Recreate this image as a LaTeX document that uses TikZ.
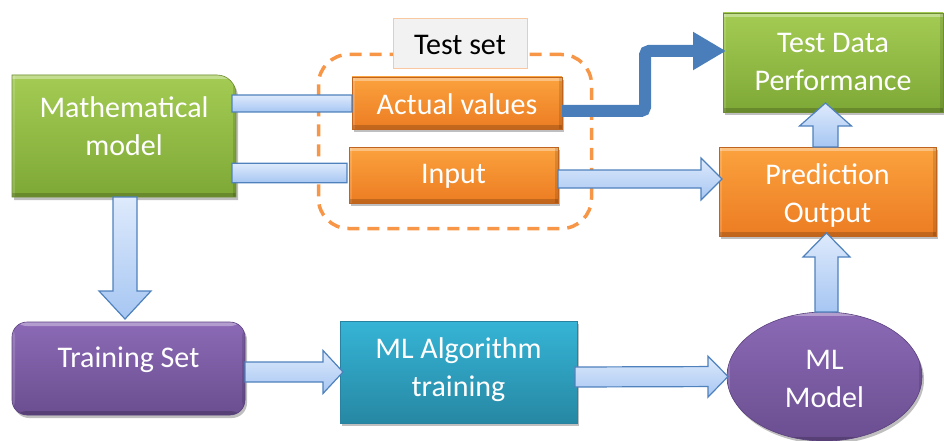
\documentclass[tikz,border=0pt]{standalone}
\usepackage{fontspec}
\setmainfont{Carlito}
\usetikzlibrary{calc,arrows.meta,shadows,shapes.geometric}

\definecolor{greenT}{RGB}{164,204,84}
\definecolor{greenB}{RGB}{126,168,54}
\definecolor{greenE}{RGB}{110,140,50}
\definecolor{orangeT}{RGB}{251,162,62}
\definecolor{orangeB}{RGB}{236,124,34}
\definecolor{orangeE}{RGB}{190,100,30}
\definecolor{purpleT}{RGB}{140,106,182}
\definecolor{purpleB}{RGB}{106,78,144}
\definecolor{purpleE}{RGB}{90,65,125}
\definecolor{tealT}{RGB}{54,180,214}
\definecolor{tealB}{RGB}{38,136,163}
\definecolor{tealE}{RGB}{40,130,160}
\definecolor{arrowT}{RGB}{222,234,252}
\definecolor{arrowB}{RGB}{166,198,242}
\definecolor{arrowE}{RGB}{79,129,189}
\definecolor{lineBlue}{RGB}{74,126,187}
\definecolor{frameOrange}{RGB}{247,150,70}
\definecolor{labelF}{RGB}{242,242,242}
\definecolor{labelE}{RGB}{250,200,160}

\tikzset{
  x=1pt, y=-1pt,
  base/.style={inner sep=0pt, outer sep=0pt},
  softshadow/.style={drop shadow={shadow xshift=2pt, shadow yshift=-3pt, opacity=0.25, fill=black}},
  bevel/.style={path picture={
      \fill[white, opacity=0.35] (path picture bounding box.north west)
        rectangle ([yshift=-4pt]path picture bounding box.north east);
      \fill[white, opacity=0.15] (path picture bounding box.north west)
        rectangle ([xshift=3pt]path picture bounding box.south west);
      \fill[black, opacity=0.12] ([xshift=-3pt]path picture bounding box.north east)
        rectangle (path picture bounding box.south east);
      \fill[black, opacity=0.18] ([yshift=4pt]path picture bounding box.south west)
        rectangle (path picture bounding box.south east);
    }},
  greenbox/.style={top color=greenT, bottom color=greenB, draw=greenE, line width=0.6pt, softshadow, bevel},
  orangebox/.style={base, top color=orangeT, bottom color=orangeB, draw=orangeE, line width=0.6pt, softshadow, bevel},
  purplebox/.style={base, top color=purpleT, bottom color=purpleB, draw=purpleE, line width=0.6pt, softshadow, bevel},
  tealbox/.style={base, top color=tealT, bottom color=tealB, draw=tealE, line width=0.6pt, softshadow},
  lbl/.style={base, text=white, align=center, font=\fontsize{30}{38}\selectfont},
  barrow/.style={top color=arrowT, bottom color=arrowB, draw=arrowE, line width=1.2pt, line join=miter},
  darkline/.style={draw=lineBlue, line width=12pt, rounded corners=4pt,
    -{Triangle[width=36pt,length=33pt]}},
}

% block arrow: from, to, shaft half width, head half width, head length
\newcommand\blockarrow[5]{%
  \path[barrow] let \p1=(#1), \p2=(#2),
      \n1={atan2(\y2-\y1,\x2-\x1)}, \n2={veclen(\x2-\x1,\y2-\y1)-#5}
    in ($(\p1)+(\n1+90:#3)$)
    -- ($(\p1)+(\n1:{(\n2)*1pt})+(\n1+90:#3)$)
    -- ($(\p1)+(\n1:{(\n2)*1pt})+(\n1+90:#4)$)
    -- (\p2)
    -- ($(\p1)+(\n1:{(\n2)*1pt})+(\n1-90:#4)$)
    -- ($(\p1)+(\n1:{(\n2)*1pt})+(\n1-90:#3)$)
    -- ($(\p1)+(\n1-90:#3)$) -- cycle;
}

\begin{document}
\begin{tikzpicture}
\useasboundingbox (0,0) rectangle (944,441);

% dashed frame around the test set
\node[base, draw=frameOrange, dashed, dash pattern=on 12pt off 8pt, line width=3.5pt,
  rounded corners=30pt, minimum width=273pt, minimum height=174pt] (group) at (455,141.5) {};
\node[base, fill=labelF, draw=labelE, line width=0.8pt, minimum width=134pt,
  minimum height=50pt] (testset) at (460,43) {};
\node[lbl, text=black] (testsettext) at (460,45) {Test set};

% mathematical model: one rounded corner
\node[base, minimum width=224pt, minimum height=122pt] (math) at (124,136) {};
\path[greenbox] (math.south west) -- (math.north west) -- ($(math.north east)+(-19,0)$)
  arc[start angle=90, end angle=0, radius=19pt] -- (math.south east) -- cycle;
\node[lbl] (mathtext) at (124,126) {Mathematical\\model};

% test set boxes
\node[orangebox, minimum width=210pt, minimum height=52pt] (actual) at (457,103) {};
\node[lbl] (actualtext) at (457,104) {Actual values};
\node[orangebox, minimum width=209pt, minimum height=56pt] (input) at (453.5,175) {};
\node[lbl] (inputtext) at (453.5,176) {Input};

% results
\node[base, greenbox, minimum width=220pt, minimum height=99pt] (testdata) at (833,62.5) {};
\node[lbl] (testdatatext) at (833,62) {Test Data\\Performance};
\node[orangebox, minimum width=217pt, minimum height=89pt] (pred) at (827.5,191.5) {};
\node[lbl] (predtext) at (827.5,195) {Prediction\\Output};

% training chain
\node[purplebox, rounded corners=15pt, minimum width=233pt, minimum height=93pt] (training) at (128.5,368.5) {};
\node[lbl] (trainingtext) at (128.5,360) {Training Set};
\node[tealbox, minimum width=237pt, minimum height=102pt] (mlalg) at (458.5,372) {};
\node[lbl] (mlalgtext) at (458.5,370) {ML Algorithm\\training};
\node[purplebox, ellipse, minimum width=195pt, minimum height=129pt] (mlmodel) at (824.5,376.5) {};
\node[lbl] (mlmodeltext) at (824.5,378.5) {ML\\Model};

% connectors
\blockarrow{$(math.east |- actual.west)+(-4,0.5)$}{$(actual.west)+(0,0.5)$}{8.5pt}{8.5pt}{0.1pt}
\blockarrow{$(math.east |- input.west)+(-4,-2)$}{$(input.west)+(-2,-2)$}{9.7pt}{9.7pt}{0.1pt}
\blockarrow{$(input.east)+(0,4)$}{$(pred.west |- input.east)+(3,4)$}{9pt}{21pt}{21pt}
\blockarrow{$(math.south)+(1,0)$}{$(math.south |- training.north)+(1,-3)$}{12pt}{26pt}{28pt}
\blockarrow{$(training.east |- mlalg.west)$}{$(mlalg.west)+(3,0)$}{10pt}{21.5pt}{20pt}
\blockarrow{$(mlalg.east |- mlmodel.west)+(-2,0.5)$}{$(mlmodel.west)+(1,0)$}{10pt}{20.5pt}{20pt}
\blockarrow{$(mlmodel.north)+(2,0)$}{$(mlmodel.north |- pred.south)+(2,-3)$}{11.5pt}{23.5pt}{24pt}
\blockarrow{$(pred.north)+(-2,0)$}{$(pred.north |- testdata.south)+(-2,-9)$}{12.5pt}{26pt}{23pt}

\draw[darkline] ($(actual.east)+(0,8)$) -- ++(83,0) |- ($(testdata.west)+(3,-11.5)$);
\end{tikzpicture}
\end{document}
